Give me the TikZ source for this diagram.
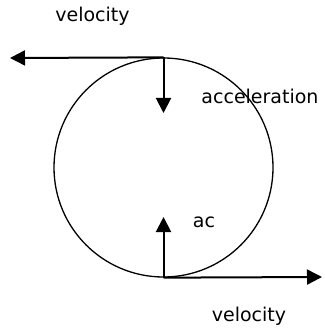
\documentclass[tikz,border=0pt]{standalone}
\usepackage{fontspec}
\setmainfont{DejaVu Sans}
\usetikzlibrary{arrows.meta}
\begin{document}
\begin{tikzpicture}[x=1pt,y=-1pt,
  vec/.style={line width=2pt,-{Triangle[length=15pt,width=15pt]}},
  lbl/.style={inner sep=0pt,font=\fontsize{19}{21}\selectfont}]
\useasboundingbox (0,0) rectangle (324,331);
\node[circle,draw,line width=1.3pt,minimum size=219pt,inner sep=0pt] (c) at (163.5,167.5) {};
\coordinate (vtop) at (10,58);
\coordinate (atop) at (163.5,113);
\coordinate (abot) at (163.5,217);
\coordinate (vbot) at (322,277);
\draw[vec] (c.north) -- (vtop);
\draw[vec] (c.north) -- (atop);
\draw[vec] (c.south) -- (abot);
\draw[vec] (c.south) -- (vbot);
\node[lbl] (t1) at (92.5,16) {velocity};
\node[lbl] (t2) at (260,96) {acceleration};
\node[lbl] (t3) at (204,222) {ac};
\node[lbl] (t4) at (249,316) {velocity};
\end{tikzpicture}
\end{document}
